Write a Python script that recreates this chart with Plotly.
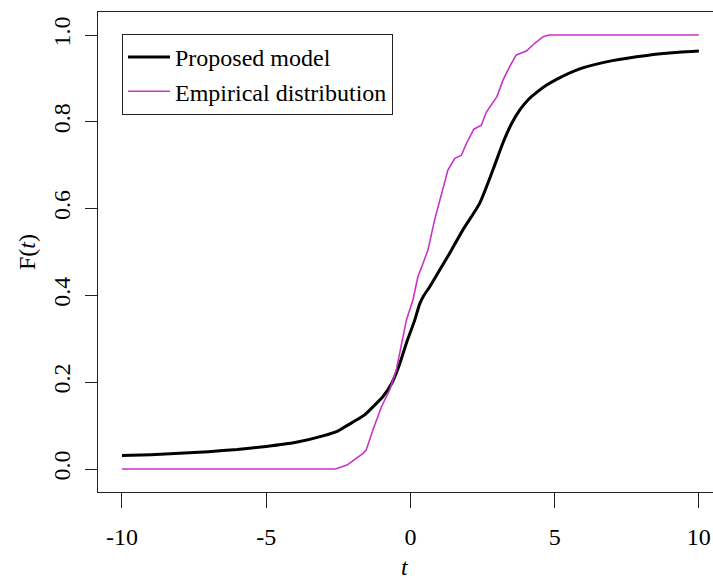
import plotly.graph_objects as go

# Proposed model F(t)
model_t = [-10, -9, -8, -7, -6, -5, -4, -3, -2.5, -2.2, -1.6, -1.3, -0.95, -0.65,
           -0.4, -0.14, 0.15, 0.32, 0.45, 0.67, 1.02, 1.3, 1.82, 2.4, 2.86, 3.2,
           3.5, 3.8, 4.1, 4.4, 4.71, 5.1, 5.87, 7.0, 8.2, 9.3, 10]
model_F = [0.031, 0.033, 0.036, 0.040, 0.045, 0.052, 0.061, 0.077, 0.088, 0.100,
           0.124, 0.143, 0.167, 0.197, 0.237, 0.290, 0.343, 0.380, 0.398, 0.420,
           0.459, 0.490, 0.551, 0.612, 0.689, 0.750, 0.795, 0.828, 0.852, 0.869,
           0.884, 0.899, 0.922, 0.941, 0.953, 0.960, 0.963]

# Empirical distribution
emp_t = [-10, -2.6, -2.2, -1.64, -1.53, -1.3, -1.0, -0.72, -0.49, -0.31, -0.14,
         0.09, 0.26, 0.44, 0.61, 0.84, 1.13, 1.3, 1.54, 1.77, 1.94, 2.2, 2.46,
         2.63, 3.0, 3.21, 3.44, 3.67, 4.02, 4.31, 4.6, 4.8, 10]
emp_F = [0.0, 0.0, 0.009, 0.036, 0.044, 0.090, 0.144, 0.182, 0.228, 0.290, 0.343,
         0.390, 0.443, 0.474, 0.505, 0.574, 0.650, 0.689, 0.716, 0.723, 0.750,
         0.783, 0.792, 0.822, 0.858, 0.896, 0.927, 0.954, 0.963, 0.981, 0.996,
         1.0, 1.0]

x_ticks = [-10, -5, 0, 5, 10]
x_ticktext = ["-10", "-5", "0", "5", "10"]
y_ticks = [0.0, 0.2, 0.4, 0.6, 0.8, 1.0]
y_ticktext = ["0.0", "0.2", "0.4", "0.6", "0.8", "1.0"]

FONT = "Liberation Serif"
AX = "#222222"

W, H = 713, 579
ML, MR, MT, MB = 98, 0, 12, 87
PW, PH = W - ML - MR, H - MT - MB


def px_x(sx):  # screen x -> paper x
    return (sx - ML) / PW


def px_y(sy):  # screen y -> paper y
    return 1 - (sy - MT) / PH


fig = go.Figure()
fig.add_trace(go.Scatter(x=model_t, y=model_F, mode="lines", name="Proposed model",
                         line=dict(color="black", width=3, shape="spline", smoothing=0.6)))
fig.add_trace(go.Scatter(x=emp_t, y=emp_F, mode="lines", name="Empirical distribution",
                         line=dict(color="#C733C7", width=1.6)))

fig.update_layout(
    width=W, height=H,
    margin=dict(l=ML, r=MR, t=MT, b=MB),
    plot_bgcolor="white", paper_bgcolor="white",
    font=dict(family=FONT, size=24, color="black"),
    showlegend=True,
    legend=dict(x=px_x(122), y=px_y(34),
                xanchor="left", yanchor="top",
                bordercolor=AX, borderwidth=1, bgcolor="white",
                font=dict(family=FONT, size=24, color="black"),
                tracegroupgap=0, itemwidth=42),
    xaxis=dict(range=[-10.83, 10.49], tickvals=x_ticks, ticktext=x_ticktext,
               ticks="outside", ticklen=15, tickwidth=1, tickcolor=AX,
               showline=True, linecolor=AX, linewidth=1, mirror=True,
               showgrid=False, zeroline=False, ticklabelstandoff=8),
    yaxis=dict(range=[-0.053, 1.053], tickvals=y_ticks, ticktext=y_ticktext,
               ticks="outside", ticklen=12, tickwidth=1, tickcolor=AX,
               showline=True, linecolor=AX, linewidth=1, mirror=False,
               showgrid=False, zeroline=False, tickangle=-90, ticklabelstandoff=5),
    annotations=[
        dict(text="<i>t</i>", x=px_x(405), xref="paper", y=px_y(567), yref="paper",
             showarrow=False, font=dict(family=FONT, size=24), xanchor="center", yanchor="middle"),
        dict(text="F(<i>t</i>)", x=px_x(27), xref="paper", y=px_y(252), yref="paper",
             showarrow=False, textangle=-90, font=dict(family=FONT, size=24),
             xanchor="center", yanchor="middle"),
    ],
)

fig.write_html("out.html",
               config={"displayModeBar": False},
               post_script="document.body.style.margin='0';document.body.style.overflow='hidden';")
